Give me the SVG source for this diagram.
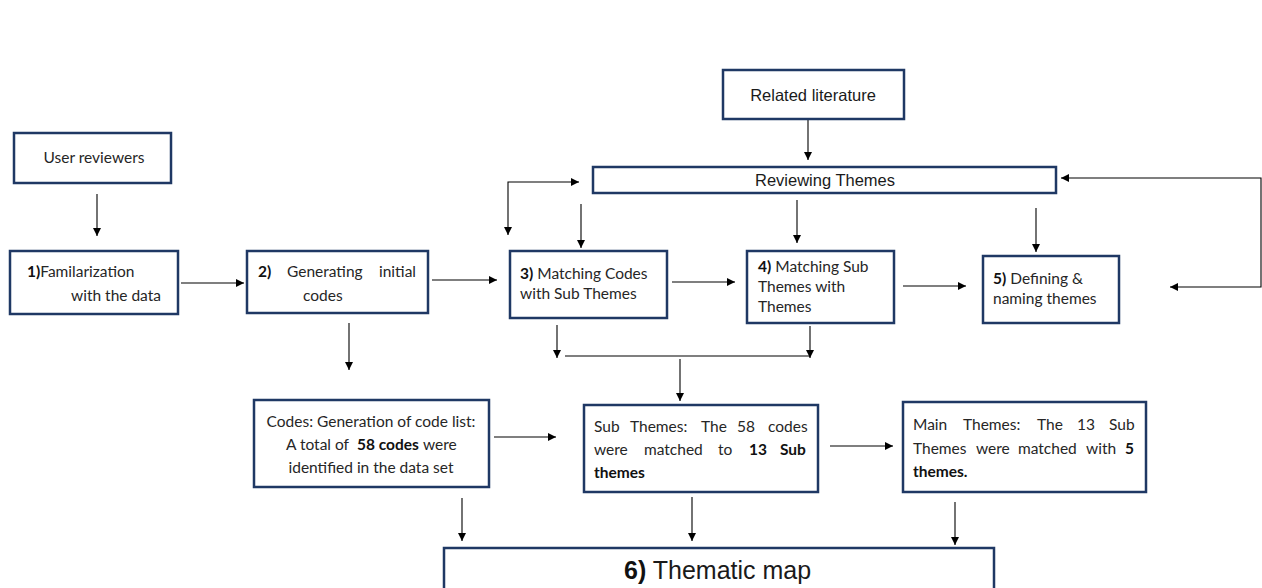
<svg xmlns="http://www.w3.org/2000/svg" width="1262" height="588" viewBox="0 0 1262 588">
<defs>
<marker id="ah" viewBox="0 0 10 10" refX="10" refY="5" markerWidth="9" markerHeight="8" markerUnits="userSpaceOnUse" orient="auto-start-reverse">
<path d="M0,0 L10,5 L0,10 z" fill="#000"/>
</marker>
<style>
.box{fill:#fff;stroke:#1f3864;stroke-width:2.5}
.c{font-family:Lato,"Open Sans","Liberation Sans",sans-serif;font-size:15.5px;fill:#262626}
.a{font-family:"Liberation Sans",Arial,sans-serif;font-size:16.5px;fill:#1a1a1a}
.b{font-weight:bold;fill:#111}
.ln{fill:none;stroke:#000;stroke-width:1.1}
.ar{fill:none;stroke:#000;stroke-width:1.1;marker-end:url(#ah)}
.ar2{fill:none;stroke:#000;stroke-width:1.1;marker-end:url(#ah);marker-start:url(#ah)}
</style>
</defs>
<rect width="1262" height="588" fill="#fff"/>

<g id="connectors">
<line class="ar" x1="97" y1="194" x2="97" y2="236"/>
<line class="ar" x1="181" y1="283" x2="244" y2="283"/>
<line class="ar" x1="432" y1="280" x2="497" y2="280"/>
<line class="ar" x1="672" y1="282" x2="735" y2="282"/>
<line class="ar" x1="903" y1="286" x2="966" y2="286"/>
<line class="ar" x1="808" y1="117" x2="808" y2="160"/>
<line class="ar" x1="581" y1="204" x2="581" y2="248"/>
<line class="ar" x1="797" y1="200" x2="797" y2="243"/>
<line class="ar" x1="1036" y1="208" x2="1036" y2="252"/>
<path class="ar2" d="M508,235 L508,182 L579,182"/>
<path class="ar2" d="M1170,287 L1261,287 L1261,178 L1061,178"/>
<line class="ar" x1="349" y1="323" x2="349" y2="370"/>
<line class="ar" x1="557" y1="325" x2="557" y2="358"/>
<line class="ar" x1="810" y1="326" x2="810" y2="358"/>
<line class="ln" x1="565" y1="356" x2="810" y2="356"/>
<line class="ar" x1="680" y1="359" x2="680" y2="401"/>
<line class="ar" x1="494" y1="437" x2="556" y2="437"/>
<line class="ar" x1="830" y1="446" x2="893" y2="446"/>
<line class="ar" x1="462" y1="498" x2="462" y2="541"/>
<line class="ar" x1="692" y1="497" x2="692" y2="541"/>
<line class="ar" x1="955" y1="502" x2="955" y2="545"/>
</g>

<g id="user-reviewers">
<rect class="box" x="14" y="133" width="157" height="50"/>
<text class="c" x="94" y="163" text-anchor="middle">User reviewers</text>
</g>

<g id="step1">
<rect class="box" x="10" y="251" width="168" height="63"/>
<text class="c" x="27" y="277"><tspan class="b">1)</tspan>Familarization</text>
<text class="c" x="71" y="301">with the data</text>
</g>

<g id="step2">
<rect class="box" x="247" y="251" width="181" height="62"/>
<text class="c" y="277"><tspan class="b" x="258">2)</tspan><tspan x="287">Generating</tspan><tspan x="379">initial</tspan></text>
<text class="c" x="303" y="301">codes</text>
</g>

<g id="related-literature">
<rect class="box" x="723" y="70" width="181" height="49"/>
<text class="a" x="813" y="101" text-anchor="middle">Related literature</text>
</g>

<g id="reviewing-themes">
<rect class="box" x="593" y="167" width="463" height="26"/>
<text class="a" x="825" y="186" text-anchor="middle">Reviewing Themes</text>
</g>

<g id="step3">
<rect class="box" x="510" y="251" width="157" height="67"/>
<text class="c" x="520" y="279"><tspan class="b">3)</tspan> Matching Codes</text>
<text class="c" x="520" y="299">with Sub Themes</text>
</g>

<g id="step4">
<rect class="box" x="747" y="251" width="147" height="72"/>
<text class="c" x="758" y="272"><tspan class="b">4)</tspan> Matching Sub</text>
<text class="c" x="758" y="292">Themes with</text>
<text class="c" x="758" y="312">Themes</text>
</g>

<g id="step5">
<rect class="box" x="983" y="256" width="136" height="67"/>
<text class="c" x="993" y="284"><tspan class="b">5)</tspan> Defining &amp;</text>
<text class="c" x="993" y="304">naming themes</text>
</g>

<g id="codes">
<rect class="box" x="254" y="400" width="235" height="87"/>
<text class="c" x="371" y="427" text-anchor="middle">Codes: Generation of code list:</text>
<text class="c" y="450"><tspan x="286">A total of</tspan><tspan class="b" x="357">58 codes</tspan><tspan x="423">were</tspan></text>
<text class="c" x="371" y="473" text-anchor="middle">identified in the data set</text>
</g>

<g id="sub-themes">
<rect class="box" x="584" y="405" width="234" height="87"/>
<text class="c" y="432"><tspan x="594">Sub</tspan><tspan x="630">Themes:</tspan><tspan x="701">The</tspan><tspan x="737">58</tspan><tspan x="768">codes</tspan></text>
<text class="c" y="455"><tspan x="594">were</tspan><tspan x="644">matched</tspan><tspan x="718">to</tspan><tspan class="b" x="749">13</tspan><tspan class="b" x="780">Sub</tspan></text>
<text class="c b" x="594" y="478">themes</text>
</g>

<g id="main-themes">
<rect class="box" x="903" y="402" width="243" height="90"/>
<text class="c" y="430"><tspan x="913">Main</tspan><tspan x="963">Themes:</tspan><tspan x="1037">The</tspan><tspan x="1077">13</tspan><tspan x="1109">Sub</tspan></text>
<text class="c" y="454"><tspan x="913">Themes</tspan><tspan x="976">were</tspan><tspan x="1018">matched</tspan><tspan x="1086">with</tspan><tspan class="b" x="1125">5</tspan></text>
<text class="c b" x="913" y="477">themes.</text>
</g>

<g id="thematic-map">
<rect class="box" x="444" y="548" width="550" height="45"/>
<text class="a" x="624" y="579" style="font-size:25px"><tspan class="b">6)</tspan> Thematic map</text>
</g>
</svg>
